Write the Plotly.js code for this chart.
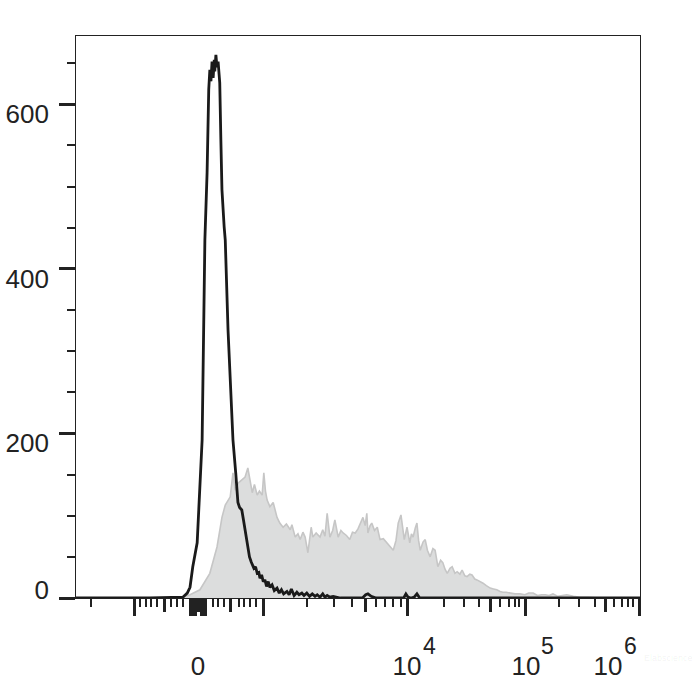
<!DOCTYPE html>
<html>
<head>
<meta charset="utf-8">
<script src="https://cdn.plot.ly/plotly-3.0.1.min.js"></script>
<style>html,body{margin:0;padding:0;background:#fff;}#chart{width:700px;height:700px;}</style>
</head>
<body>
<div id="chart"></div>
<script>
// Display channel (biexponential scale, 0..1024) and event counts
const grayX = [189,207,225,243,256,265,271,280,285,289,295,301,307,312,316,320,324,329,333,338,341,344,347,352,358,365,370,376,382,389,392,398,403,407,412,416,421,427,430,436,443,448,452,456,461,466,470,476,481,485,491,497,502,507,512,516,521,525,528,530,534,537,542,547,552,558,565,570,576,581,585,590,593,596,601,606,609,612,616,619,622,625,630,634,638,643,648,652,657,662,666,670,674,679,683,688,692,697,701,706,710,715,719,724,728,734,739,745,752,758,764,770,775,781,788,797,806,815,822,830,838,845,852,859,866,875,883,891,903,915,930,951,1024];
const grayY = [0,4,10,30,62,98,113,123,152,131,140,143,147,158,140,128,138,125,130,125,152,130,119,111,116,98,91,86,90,83,89,74,78,71,80,74,55,86,74,79,74,83,75,103,74,82,95,74,82,79,76,71,80,79,84,91,98,88,103,79,88,91,82,86,71,72,67,63,58,70,91,101,84,71,86,67,78,74,85,91,70,58,68,71,58,50,60,58,38,46,43,35,30,36,38,30,32,29,34,27,26,29,28,23,22,20,18,15,12,11,10,8,7,7,6,5,5,4,6,6,3,4,4,3,5,2,3,4,2,1,1,0,0];

const blackX = [0,134,194,202,207,212,220,223,227,229,232,234,238,240,241,243,245,247,249,251,252,254,256,258,260,261,263,265,269,271,276,281,285,290,294,297,301,304,307,309,312,315,318,320,323,326,329,332,334,337,340,343,346,349,352,356,360,365,369,373,377,383,387,391,396,401,405,410,414,419,424,429,434,438,443,448,452,456,461,467,480,520,526,530,536,545,595,599,603,608,614,619,624,1024];
const blackY = [0,0,1,6,13,38,67,111,152,192,338,435,517,597,618,642,628,652,632,654,640,660,645,652,636,626,557,496,451,435,326,241,192,152,116,110,107,95,83,72,58,50,44,40,36,38,30,31,24,28,20,22,14,20,13,16,9,12,6,10,5,8,4,11,3,7,4,6,3,6,2,5,2,4,1,5,1,3,1,2,0,0,4,5,2,0,0,5,1,0,1,5,0,0];

// Axis ticks (display channels / counts) and labels
const xTallTicks = [107,208,211,214,217,227,230,233,236,340,601,817,1023];
const xMidTicks = [160,220,223,281,525,753,962];
const xShortTicks = [27,116,127,136,147,172,183,194,249,258,269,296,305,316,327,419,468,501,545,561,576,590,668,704,732,770,786,797,804,877,913,942,977,991,1002,1011];
const xLabelVals = [221.5,601,817,966];
const xLabelText = ['0','10','10','10'];
const xLabelExp = ['','4','5','6'];

const yMajorTicks = [0,200,400,600];
const yMinorTicks = [50,100,150,250,300,350,450,500,550,650];
const yLabelVals = [10,188,388,588];
const yLabelText = ['0','200','400','600'];

const FONT = 'Liberation Sans, Arial, Helvetica, sans-serif';
const INK = '#222222';
const XR = [0,1024], YR = [0,683];

const traces = [
  {x: grayX, y: grayY, type:'scatter', mode:'lines', fill:'tozeroy',
   fillcolor:'#dcdddd', line:{color:'#c6c6c6', width:1.6}, showlegend:false, hoverinfo:'skip'},
  {x: blackX, y: blackY, type:'scatter', mode:'lines',
   line:{color:'#1a1a1a', width:2.8}, showlegend:false, hoverinfo:'skip'},
  {x: [], y: [], xaxis:'x2', yaxis:'y', type:'scatter', showlegend:false},
  {x: [], y: [], xaxis:'x3', yaxis:'y', type:'scatter', showlegend:false},
  {x: [], y: [], xaxis:'x', yaxis:'y2', type:'scatter', showlegend:false}
];

const annotations = [];
xLabelExp.forEach((e,i)=>{
  if(!e) return;
  annotations.push({x: xLabelVals[i], xref:'x', y:0, yref:'paper', text:e, showarrow:false,
    xshift:22, yshift:-48, xanchor:'center', yanchor:'middle',
    font:{family:FONT, size:23, color:INK}});
});
annotations.push({x:1, xref:'paper', y:0, yref:'paper', text:'Elabscience', showarrow:false,
  xanchor:'center', yanchor:'middle', xshift:28, yshift:-60, font:{family:FONT, size:9, color:'rgba(0,0,0,0.06)'}});

const layout = {
  width:700, height:700,
  margin:{l:76, r:60, t:36, b:102},
  paper_bgcolor:'#ffffff', plot_bgcolor:'#ffffff',
  font:{family:FONT, color:INK},
  xaxis:{range:XR, autorange:false, showgrid:false, zeroline:false,
    showline:true, mirror:true, linecolor:INK, linewidth:1.2,
    tickmode:'array', tickvals:xTallTicks, ticks:'outside', ticklen:17, tickwidth:3, tickcolor:INK,
    showticklabels:false,
    minor:{tickmode:'array', tickvals:xShortTicks, ticks:'outside', ticklen:8, tickwidth:2, tickcolor:INK, showgrid:false}},
  xaxis2:{overlaying:'x', anchor:'y', side:'bottom', range:XR, autorange:false, showgrid:false, zeroline:false, showline:false,
    tickmode:'array', tickvals:xMidTicks, ticks:'outside', ticklen:13, tickwidth:3, tickcolor:INK, showticklabels:false},
  xaxis3:{overlaying:'x', anchor:'y', side:'bottom', range:XR, autorange:false, showgrid:false, zeroline:false, showline:false,
    tickmode:'array', tickvals:xLabelVals, ticktext:xLabelText, ticks:'', ticklabelstandoff:50,
    tickfont:{family:FONT, size:26, color:INK}},
  yaxis:{range:YR, autorange:false, showgrid:false, zeroline:false,
    showline:true, mirror:true, linecolor:INK, linewidth:1.2,
    tickmode:'array', tickvals:yMajorTicks, ticks:'outside', ticklen:16, tickwidth:3, tickcolor:INK,
    showticklabels:false,
    minor:{tickmode:'array', tickvals:yMinorTicks, ticks:'outside', ticklen:8, tickwidth:2, tickcolor:INK, showgrid:false}},
  yaxis2:{overlaying:'y', anchor:'x', side:'left', range:YR, autorange:false, showgrid:false, zeroline:false, showline:false,
    tickmode:'array', tickvals:yLabelVals, ticktext:yLabelText, ticks:'', ticklabelstandoff:26,
    tickfont:{family:FONT, size:26, color:INK}},
  annotations: annotations
};

Plotly.newPlot('chart', traces, layout, {staticPlot:true, displayModeBar:false});
</script>
</body>
</html>
